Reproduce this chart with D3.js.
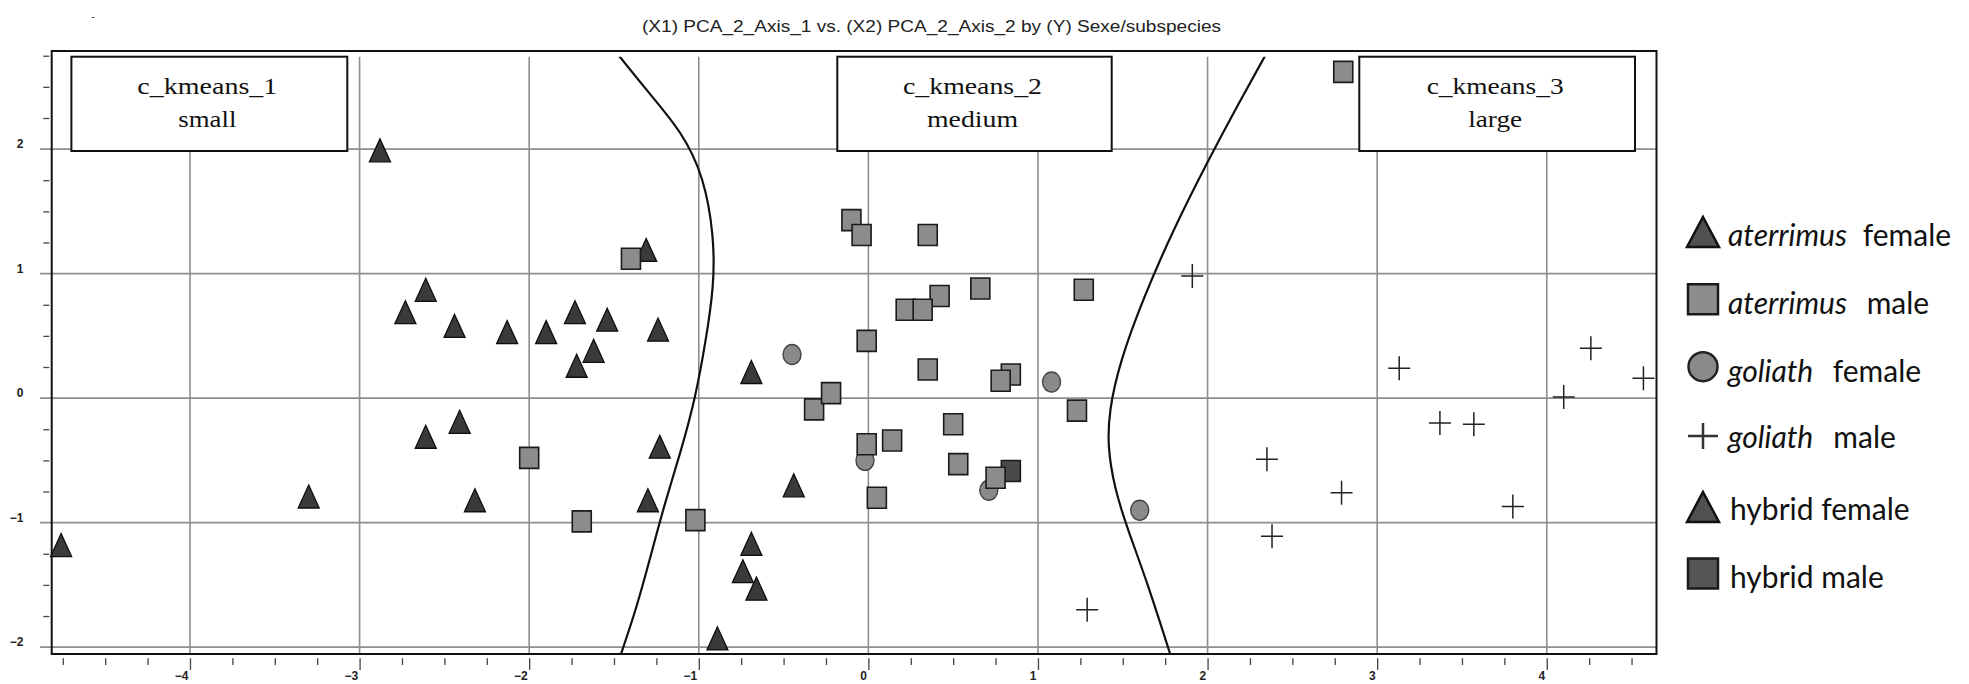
<!DOCTYPE html>
<html><head><meta charset="utf-8">
<script src="https://cdn.jsdelivr.net/npm/d3@7"></script>
<style>body{margin:0;background:#fff;} svg{display:block;}</style>
</head><body><svg id="c" width="1969" height="684"></svg>
<script>
// ---------------- data ----------------
const titleText = "(X1) PCA_2_Axis_1 vs. (X2) PCA_2_Axis_2 by (Y) Sexe/subspecies";
const xTicks = [-4, -3, -2, -1, 0, 1, 2, 3, 4];
const yTicks = [-2, -1, 0, 1, 2];
const clusterNames = ["c_kmeans_1", "c_kmeans_2", "c_kmeans_3"];
const clusterSizes = ["small", "medium", "large"];

const aterrimusFemale = [[-2.88,1.99],[-1.31,1.19],[-2.61,0.87],[-2.73,0.69],[-2.44,0.58],[-2.13,0.53],[-1.90,0.53],[-1.73,0.69],[-1.54,0.63],[-1.24,0.55],[-1.62,0.38],[-1.72,0.26],[-2.41,-0.19],[-2.61,-0.31],[-1.23,-0.39],[-3.30,-0.79],[-2.32,-0.82],[-1.30,-0.82],[-4.76,-1.18]];
const hybridFemale = [[-0.69,0.21],[-0.44,-0.70],[-0.69,-1.17],[-0.74,-1.39],[-0.66,-1.53],[-0.89,-1.93]];
const goliathFemale = [[-0.45,0.35],[1.08,0.13],[-0.02,-0.50],[0.71,-0.74],[1.60,-0.90]];
const hybridMale = [[0.84,-0.585]];
const aterrimusMale = [[-1.40,1.12],[-2.00,-0.48],[-1.69,-0.99],[-1.02,-0.98],[-0.10,1.43],[-0.04,1.31],[0.35,1.31],[0.66,0.88],[1.27,0.87],[0.42,0.82],[0.22,0.71],[0.32,0.71],[-0.01,0.46],[0.35,0.23],[0.84,0.19],[0.78,0.14],[-0.32,-0.09],[-0.22,0.04],[1.23,-0.10],[0.50,-0.21],[-0.01,-0.37],[0.14,-0.34],[0.53,-0.53],[0.75,-0.64],[0.05,-0.80],[2.80,2.62]];
const goliathMale = [[1.91,0.98],[3.13,0.24],[4.26,0.40],[4.57,0.16],[4.10,0.01],[3.37,-0.20],[3.57,-0.21],[2.35,-0.49],[2.79,-0.76],[3.80,-0.87],[2.38,-1.11],[1.29,-1.70]];

const leftBoundary = [[-1.50,2.80],[-1.30,2.46],[-1.10,2.14],[-0.97,1.78],[-0.91,1.30],[-0.91,0.90],[-0.96,0.45],[-1.02,0.00],[-1.11,-0.45],[-1.20,-0.84],[-1.29,-1.30],[-1.37,-1.70],[-1.47,-2.10]];
const rightBoundary = [[2.36,2.80],[2.18,2.36],[2.00,1.90],[1.80,1.36],[1.62,0.80],[1.48,0.28],[1.42,-0.10],[1.41,-0.38],[1.45,-0.72],[1.53,-1.06],[1.64,-1.46],[1.79,-2.10]];

const legendSpecies = ["aterrimus", "aterrimus", "goliath", "goliath", "hybrid", "hybrid"];
const legendSex = ["female", "male", "female", "male", "female", "male"];
const legendItalic = [true, true, true, true, false, false];
const legendShape = ["triangle", "square", "circle", "plus", "triangle", "square"];

// ---------------- layout / style ----------------
const svg = d3.select("#c");
const frame = {left: 51.7, right: 1656.5, top: 51, bottom: 654, innerTop: 56.7};
const x = d3.scaleLinear().domain([-4.8166, 4.650]).range([51.5, 1657]);
const y = d3.scaleLinear().domain([-2.055, 2.788]).range([654, 51]);
const gridColor = "#8e8e8e";

const styles = {
  atF: {shape: "triangle", w: 21, h: 23, fill: "#3a3a3a", stroke: "#0e0e0e", sw: 1.3},
  hyF: {shape: "triangle", w: 21, h: 23, fill: "#3a3a3a", stroke: "#0e0e0e", sw: 1.3},
  goF: {shape: "circle", w: 18, h: 20, fill: "#8a8a8a", stroke: "#444", sw: 1.4},
  hyM: {shape: "square", w: 19, h: 21, fill: "#4a4a4a", stroke: "#1a1a1a", sw: 1.6},
  atM: {shape: "square", w: 19, h: 21, fill: "#8c8c8c", stroke: "#1a1a1a", sw: 1.6},
  goM: {shape: "plus", w: 22, h: 24, fill: "none", stroke: "#222", sw: 1.5}
};

function shapePath(shape, w, h) {
  const a = w / 2, b = h / 2;
  if (shape === "triangle") return `M0,${-b}L${a},${b}L${-a},${b}Z`;
  if (shape === "square") return `M${-a},${-b}H${a}V${b}H${-a}Z`;
  if (shape === "plus") return `M${-a},0H${a}M0,${-b}V${b}`;
  return null;
}
function drawShape(g, st) {
  if (st.shape === "circle") {
    g.append("ellipse").attr("rx", st.w / 2).attr("ry", st.h / 2)
      .attr("fill", st.fill).attr("stroke", st.stroke).attr("stroke-width", st.sw);
  } else {
    g.append("path").attr("d", shapePath(st.shape, st.w, st.h))
      .attr("fill", st.fill).attr("stroke", st.stroke).attr("stroke-width", st.sw);
  }
}

// title
svg.append("text").attr("x", 642).attr("y", 32.3)
  .attr("font-family", "Liberation Sans, Arial, sans-serif").attr("font-size", 16)
  .attr("fill", "#222").attr("textLength", 579).attr("lengthAdjust", "spacingAndGlyphs")
  .text(titleText);
svg.append("text").attr("x", 93).attr("y", 20).attr("text-anchor", "middle")
  .attr("font-family", "Liberation Sans, Arial, sans-serif").attr("font-size", 11).attr("fill", "#444").text("-");

// grid
const grid = svg.append("g");
grid.selectAll("line.v").data(xTicks).join("line").attr("class", "v")
  .attr("x1", d => x(d)).attr("x2", d => x(d)).attr("y1", frame.innerTop).attr("y2", frame.bottom)
  .attr("stroke", gridColor).attr("stroke-width", 1.6);
grid.selectAll("line.h").data(yTicks).join("line").attr("class", "h")
  .attr("x1", 40).attr("x2", frame.right).attr("y1", d => y(d)).attr("y2", d => y(d))
  .attr("stroke", gridColor).attr("stroke-width", 1.6);

// axes ticks
const minorX = d3.range(-4.75, 4.51, 0.25).filter(v => Math.abs(v - Math.round(v)) > 1e-6);
const minorY = d3.range(-1.75, 2.76, 0.25).filter(v => Math.abs(v - Math.round(v)) > 1e-6);

const gxMinor = svg.append("g").attr("transform", "translate(0,658.3)")
  .call(d3.axisBottom(x).tickValues(minorX).tickSize(6.7).tickFormat(""));
const gxMajor = svg.append("g").attr("transform", "translate(0,658.3)")
  .call(d3.axisBottom(x).tickValues(xTicks).tickSize(11.7).tickPadding(1.5).tickFormat(d3.format("d")));
[gxMinor, gxMajor].forEach(g => { g.select(".domain").remove(); g.selectAll("line").attr("stroke", "#444").attr("stroke-width", 1.3); });
gxMajor.selectAll("text").attr("x", -2).attr("text-anchor", "end")
  .attr("font-family", "Liberation Sans Narrow, Liberation Sans, Arial, sans-serif")
  .attr("font-size", 12).attr("font-weight", "bold").attr("fill", "#222");

const gyMinor = svg.append("g").attr("transform", "translate(49.3,0)")
  .call(d3.axisLeft(y).tickValues(minorY).tickSize(6).tickFormat(""));
gyMinor.select(".domain").remove();
gyMinor.selectAll("line").attr("stroke", "#444").attr("stroke-width", 1.3);
const gyLab = svg.append("g").attr("transform", "translate(23.5,0)")
  .call(d3.axisLeft(y).tickValues(yTicks).tickSize(0).tickPadding(0).tickFormat(d3.format("d")));
gyLab.select(".domain").remove();
gyLab.selectAll("text").attr("dy", "-0.1em")
  .attr("font-family", "Liberation Sans Narrow, Liberation Sans, Arial, sans-serif")
  .attr("font-size", 12).attr("font-weight", "bold").attr("fill", "#222");

// boundaries
svg.append("clipPath").attr("id", "clip").append("rect")
  .attr("x", frame.left).attr("y", frame.innerTop).attr("width", frame.right - frame.left).attr("height", frame.bottom - frame.innerTop);
const line = d3.line().x(d => x(d[0])).y(d => y(d[1])).curve(d3.curveBasis);
[leftBoundary, rightBoundary].forEach(b => {
  svg.append("path").attr("d", line(b)).attr("clip-path", "url(#clip)")
    .attr("fill", "none").attr("stroke", "#111").attr("stroke-width", 2.2);
});

// frame
svg.append("rect").attr("x", frame.left).attr("y", frame.top)
  .attr("width", frame.right - frame.left).attr("height", frame.bottom - frame.top)
  .attr("fill", "none").attr("stroke", "#111").attr("stroke-width", 2);

// cluster boxes (layout)
const boxX = [[71.4, 347.3], [837.3, 1111.7], [1359.3, 1635]];
const boxLen1 = [140, 139, 137];
const boxLen2 = [58, 91, 54];
boxX.forEach((bx, i) => {
  const cx = (bx[0] + bx[1]) / 2 - 2;
  svg.append("rect").attr("x", bx[0]).attr("y", 56.7).attr("width", bx[1] - bx[0]).attr("height", 94.3)
    .attr("fill", "#fff").attr("stroke", "#111").attr("stroke-width", 2);
  svg.append("text").attr("x", cx - boxLen1[i] / 2).attr("y", 94)
    .attr("font-family", "Liberation Serif, Times New Roman, serif").attr("font-size", 24).attr("fill", "#111")
    .attr("textLength", boxLen1[i]).attr("lengthAdjust", "spacingAndGlyphs").text(clusterNames[i]);
  svg.append("text").attr("x", cx - boxLen2[i] / 2).attr("y", 127.3)
    .attr("font-family", "Liberation Serif, Times New Roman, serif").attr("font-size", 24).attr("fill", "#111")
    .attr("textLength", boxLen2[i]).attr("lengthAdjust", "spacingAndGlyphs").text(clusterSizes[i]);
});

// points
const series = [
  [aterrimusFemale, styles.atF], [hybridFemale, styles.hyF], [goliathFemale, styles.goF],
  [hybridMale, styles.hyM], [aterrimusMale, styles.atM], [goliathMale, styles.goM]
];
series.forEach(([data, st]) => {
  svg.append("g").selectAll("g").data(data).join("g")
    .attr("transform", d => `translate(${x(d[0])},${y(d[1])})`)
    .each(function () { drawShape(d3.select(this), st); });
});

// legend (layout)
const legCY = [232, 299.3, 366.7, 436, 507, 573.5];
const legBase = [246, 314, 382, 448, 520, 588];
const legSexX = [1862.7, 1866.7, 1832.7, 1833.3, null, null];
const legStyles = {
  triangle: {shape: "triangle", w: 32, h: 30, fill: "#505050", stroke: "#111", sw: 2.5},
  square: {shape: "square", w: 30, h: 30, fill: "#8c8c8c", stroke: "#1a1a1a", sw: 2.5},
  circle: {shape: "circle", w: 29, h: 29, fill: "#8a8a8a", stroke: "#222", sw: 2.5},
  plus: {shape: "plus", w: 30, h: 26, fill: "none", stroke: "#333", sw: 2.5}
};
const leg = svg.append("g");
legendSpecies.forEach((sp, i) => {
  const st = Object.assign({}, legStyles[legendShape[i]]);
  if (i === 5) st.fill = "#555";
  const g = leg.append("g").attr("transform", `translate(1703,${legCY[i]})`);
  drawShape(g, st);
  const t = leg.append("text").attr("y", legBase[i])
    .attr("font-family", "Lato, Carlito, Calibri, sans-serif").attr("font-size", 30).attr("fill", "#111");
  if (legendItalic[i]) {
    t.attr("x", 1728).append("tspan").attr("font-style", "italic").text(sp);
    t.append("tspan").attr("x", legSexX[i]).text(legendSex[i]);
  } else {
    t.attr("x", 1730).text(sp + " " + legendSex[i]);
  }
});
</script></body></html>
